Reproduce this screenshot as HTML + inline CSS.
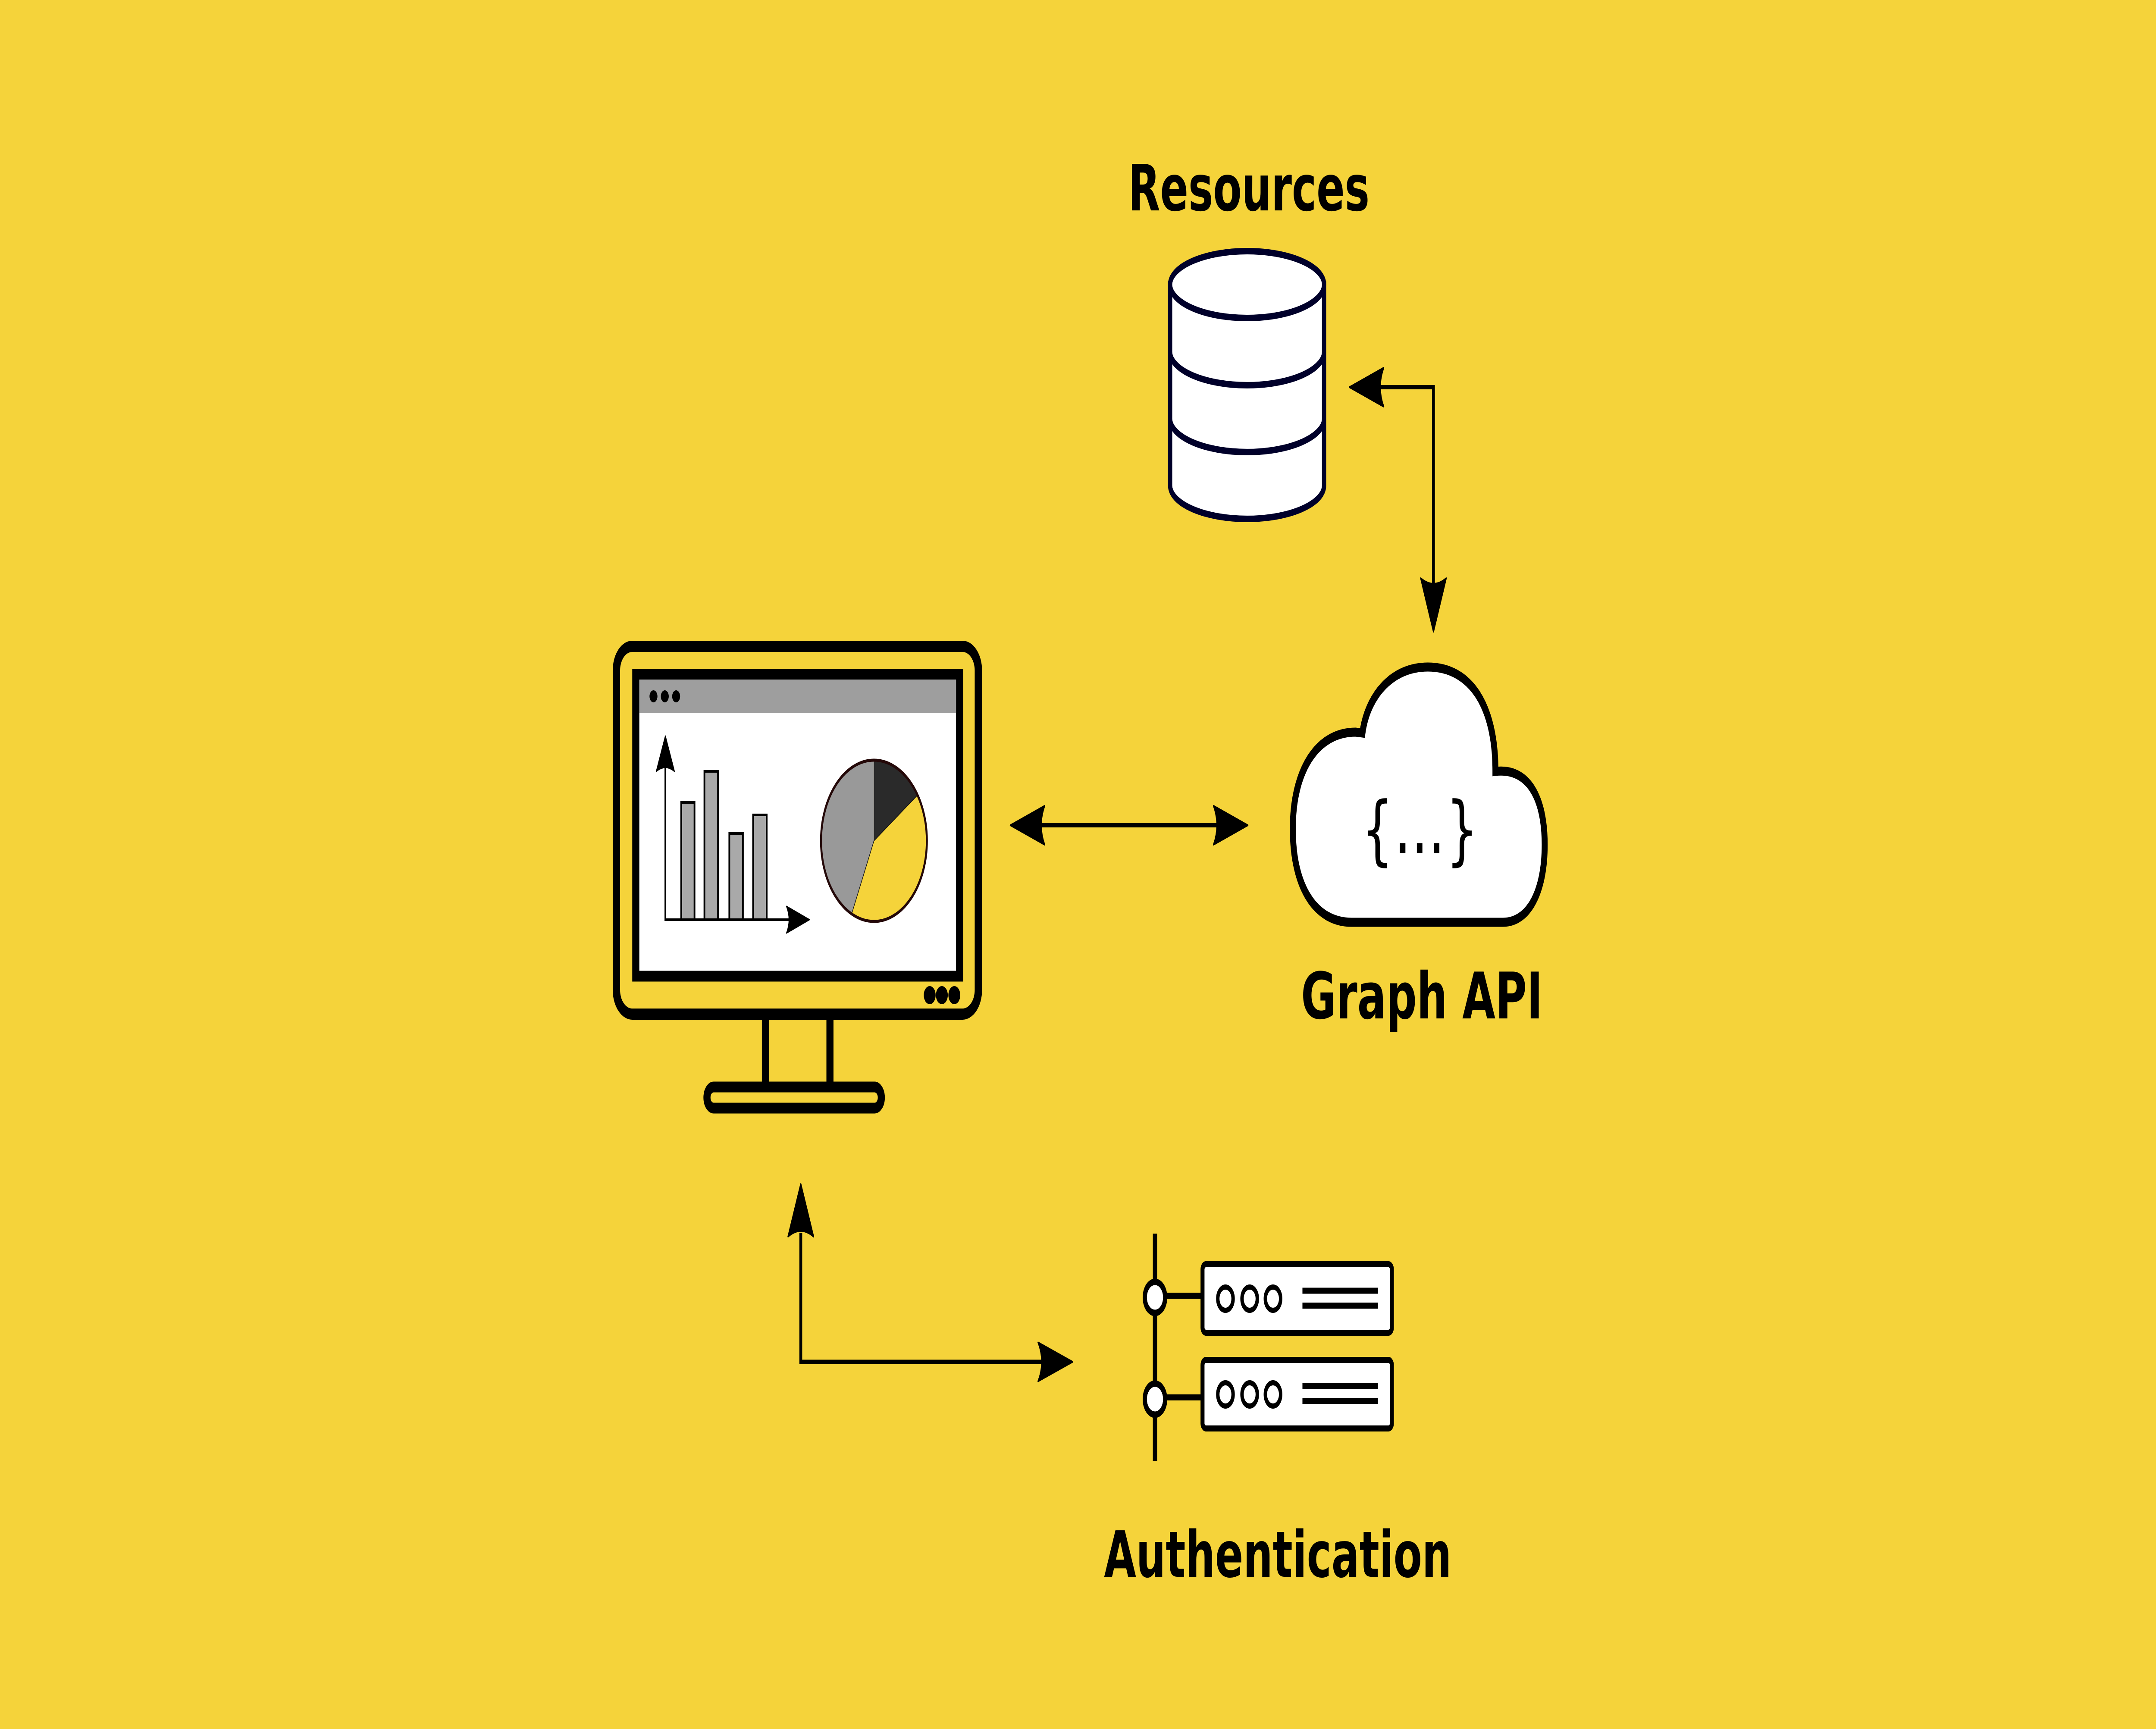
<!DOCTYPE html>
<html style="width:100%;height:100%;margin:0;padding:0;overflow:hidden;background:#f5d33a"><head><meta charset="utf-8">
<style>body{margin:0;padding:0;width:100%;height:100%;overflow:hidden;background:#f5d33a}
svg{display:block;width:100vw;height:100vh}
text{font-family:"DejaVu Sans","Liberation Sans",sans-serif;font-weight:700;fill:#000}</style>
</head><body>
<svg xmlns="http://www.w3.org/2000/svg" viewBox="0 0 7618 4010" preserveAspectRatio="none">
<rect width="7618" height="4010" fill="#f5d33a"/>

<!-- Monitor -->
<rect x="2178" y="1499" width="1279" height="853" rx="56" ry="56" fill="#f5d33a" stroke="#000" stroke-width="26"/>
<rect x="2246.500" y="1564" width="1144" height="700" fill="#fff" stroke="#000" stroke-width="25"/>
<rect x="2259" y="1576" width="1119" height="77" fill="#9e9e9e"/>
<circle cx="2309" cy="1615" r="14"/><circle cx="2349" cy="1615" r="14"/><circle cx="2389" cy="1615" r="14"/>
<circle cx="3285" cy="2308" r="21"/><circle cx="3328" cy="2308" r="21"/><circle cx="3372" cy="2308" r="21"/>
<rect x="2692" y="2365" width="25" height="150"/><rect x="2920" y="2365" width="25" height="150"/>
<rect x="2498" y="2521" width="616" height="49" rx="24" ry="24" fill="#f5d33a" stroke="#000" stroke-width="25"/>

<!-- Bar chart -->
<g fill="#a9a9a9" stroke="#000" stroke-width="6">
<rect x="2407" y="1861" width="47" height="272"/>
<rect x="2489" y="1789" width="48" height="344"/>
<rect x="2577" y="1933" width="48" height="200"/>
<rect x="2661" y="1890" width="48" height="243"/>
</g>
<path d="M2351 1780V2133H2790" fill="none" stroke="#000" stroke-width="6"/>
<path d="M2351 1707L2383 1789Q2351 1771 2319 1789Z" stroke="#000" stroke-width="3" stroke-linejoin="round"/>
<path d="M2860 2133L2779 2102Q2797 2133 2779 2164Z" stroke="#000" stroke-width="3" stroke-linejoin="round"/>

<!-- Pie -->
<circle cx="3088" cy="1950" r="187" fill="#f5d33a"/>
<path d="M3088 1950L3088 1763A187 187 0 0 0 3009 2120Z" fill="#999"/>
<path d="M3088 1950L3088 1763A187 187 0 0 1 3242 1844Z" fill="#2a2a2a"/>
<path d="M3009 2120L3088 1950L3242 1844" fill="none" stroke="#111" stroke-width="2"/>
<circle cx="3088" cy="1950" r="187" fill="none" stroke="#240808" stroke-width="7"/>

<!-- Connector monitor / cloud -->
<path d="M3680 1914H4300" stroke="#000" stroke-width="10" fill="none"/>
<path d="M3570 1914L3691 1869Q3667 1914 3691 1959Z" stroke="#000" stroke-width="4" stroke-linejoin="round"/>
<path d="M4409 1914L4288 1869Q4312 1914 4288 1959Z" stroke="#000" stroke-width="4" stroke-linejoin="round"/>

<!-- Connector resources / cloud -->
<path d="M4876 898H5065V1360" stroke="#000" stroke-width="10" fill="none"/>
<path d="M4768 898L4889 853Q4865 898 4889 943Z" stroke="#000" stroke-width="4" stroke-linejoin="round"/>
<path d="M5065 1465L5020 1341Q5065 1367 5110 1341Z" stroke="#000" stroke-width="4" stroke-linejoin="round"/>

<!-- Connector monitor / auth -->
<path d="M2829.500 2860V3158.500H3690" stroke="#000" stroke-width="10" fill="none"/>
<path d="M2829.500 2746L2784.500 2868Q2829.500 2842 2874.500 2868Z" stroke="#000" stroke-width="4" stroke-linejoin="round"/>
<path d="M3790 3158.500L3668 3113.500Q3694 3158.500 3668 3203.500Z" stroke="#000" stroke-width="4" stroke-linejoin="round"/>

<!-- Database -->
<g fill="#fff" stroke="#00002a" stroke-width="15">
<path d="M4134.500 660V1126A272 77.500 0 0 0 4678.500 1126V660Z"/>
<ellipse cx="4406.500" cy="660" rx="272" ry="77.500"/>
<path d="M4134.500 816A272 77.500 0 0 0 4678.500 816" fill="none"/>
<path d="M4134.500 971A272 77.500 0 0 0 4678.500 971" fill="none"/>
</g>

<!-- Cloud -->
<path d="M4775 2139C4650 2139 4568 2060 4568 1922C4568 1790 4650 1698 4790 1698L4814 1700C4830 1620 4910 1547 5045 1547C5200 1547 5284 1640 5284 1789C5400 1780 5458 1850 5458 1959C5458 2070 5400 2139 5311 2139Z" fill="#fff" stroke="#000" stroke-width="21"/>
<text x="4811 5110" y="1985" font-size="176" style="font-weight:400">{}</text>
<text x="4926 4986 5046" y="1979" font-size="190" style="font-weight:400">...</text>

<!-- Auth servers -->
<rect x="4073.500" y="2861" width="15" height="527"/>
<path d="M4081 3005H4245M4081 3241H4245" stroke="#000" stroke-width="14"/>
<circle cx="4081" cy="3009" r="36" fill="#fff" stroke="#000" stroke-width="15"/>
<circle cx="4081" cy="3245" r="36" fill="#fff" stroke="#000" stroke-width="15"/>
<g fill="#fff" stroke="#000" stroke-width="14">
<rect x="4249" y="2932" width="669" height="159" rx="12" ry="12"/>
<rect x="4249" y="3154" width="669" height="159" rx="12" ry="12"/>
</g>
<g fill="#fff" stroke="#000" stroke-width="12">
<circle cx="4330" cy="3012" r="27"/><circle cx="4415.500" cy="3012" r="27"/><circle cx="4498" cy="3012" r="27"/>
<circle cx="4330" cy="3234" r="27"/><circle cx="4415.500" cy="3234" r="27"/><circle cx="4498" cy="3234" r="27"/>
</g>
<path d="M4602 2993.500H4869M4602 3028H4869M4602 3215H4869M4602 3249H4869" stroke="#000" stroke-width="14"/>

<!-- Labels -->
<text x="3986" y="488" font-size="148" textLength="853" lengthAdjust="spacingAndGlyphs">Resources</text>
<text x="4597" y="2362" font-size="149" textLength="854" lengthAdjust="spacingAndGlyphs">Graph API</text>
<text x="3901" y="3657" font-size="148" textLength="1228" lengthAdjust="spacingAndGlyphs">Authentication</text>
</svg>
</body></html>
